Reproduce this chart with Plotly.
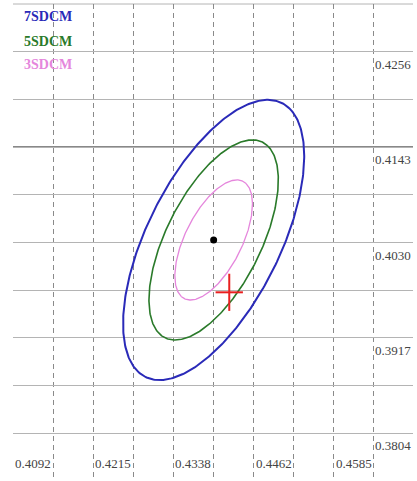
import numpy as np
import plotly.graph_objects as go

# --- data ---
center_x = 0.4339
center_y = 0.4033
ellipse_names = ["7SDCM", "5SDCM", "3SDCM"]
ellipse_a = [0.01946, 0.01390, 0.00834]   # semi-major axes
ellipse_b = [0.00952, 0.00680, 0.00408]   # semi-minor axes
ellipse_theta_deg = 53.22
ellipse_colors = ["#2a2ab8", "#2a7a2a", "#e586dc"]
ellipse_widths = [2.0, 1.6, 1.3]

measured_x = [0.4363]
measured_y = [0.3971]
cross_half_x = 0.0021
cross_half_y = 0.0022

x_tick_labels = ["0.4092", "0.4215", "0.4338", "0.4462", "0.4585"]
x_tick_values = [0.4092, 0.4215, 0.4338, 0.4462, 0.4585]
y_tick_labels = ["0.4256", "0.4143", "0.4030", "0.3917", "0.3804"]
y_tick_values = [0.4256, 0.4143, 0.4030, 0.3917, 0.3804]

x_step = 0.00615
y_step = 0.00565
x_range = [0.4092 - x_step, 0.4092 + 9 * x_step]
y_range = [0.3804 - y_step, 0.4256 + y_step]

fig = go.Figure()

t = np.linspace(0, 2 * np.pi, 361)
th = np.deg2rad(ellipse_theta_deg)
for name, a, b, col, w in zip(ellipse_names, ellipse_a, ellipse_b, ellipse_colors, ellipse_widths):
    ex = center_x + a * np.cos(t) * np.cos(th) - b * np.sin(t) * np.sin(th)
    ey = center_y + a * np.cos(t) * np.sin(th) + b * np.sin(t) * np.cos(th)
    fig.add_trace(go.Scatter(x=ex, y=ey, mode="lines", name=name,
                             line=dict(color=col, width=w), showlegend=False))

fig.add_trace(go.Scatter(x=[center_x], y=[center_y], mode="markers",
                         marker=dict(color="black", size=7), showlegend=False))

fig.add_trace(go.Scatter(
    x=measured_x, y=measured_y, mode="markers",
    marker=dict(size=1, color="rgba(0,0,0,0)"),
    error_x=dict(type="constant", value=cross_half_x, color="#e82020", thickness=2, width=0),
    error_y=dict(type="constant", value=cross_half_y, color="#e82020", thickness=2, width=0),
    showlegend=False))

# dark horizontal line
fig.add_shape(type="line", xref="paper", x0=0, x1=1, yref="y", y0=0.4143, y1=0.4143,
              line=dict(color="#606060", width=1.5), layer="below")
# top border
fig.add_shape(type="line", xref="paper", x0=0, x1=1, yref="paper", y0=1, y1=1,
              line=dict(color="#b4b4b4", width=1), layer="below")

annotations = []
for name, col, py in zip(ellipse_names, ellipse_colors, [0.9728, 0.9224, 0.8742]):
    annotations.append(dict(text="<b>" + name + "</b>", xref="paper", yref="paper", x=0.022, y=py,
                            xanchor="left", yanchor="middle", showarrow=False,
                            font=dict(family="Liberation Serif", size=14, color=col)))
for lab, v in zip(x_tick_labels, x_tick_values):
    annotations.append(dict(text=lab, xref="x", yref="paper", x=v, y=0.0377,
                            xanchor="right", yanchor="middle", showarrow=False,
                            font=dict(family="Liberation Serif", size=13, color="#444")))
for lab, v in zip(y_tick_labels, y_tick_values):
    annotations.append(dict(text=lab, xref="paper", yref="y", x=1.0, y=v,
                            xanchor="right", yanchor="top", yshift=-3, showarrow=False,
                            font=dict(family="Liberation Serif", size=13, color="#444")))

fig.update_layout(
    width=417, height=481,
    margin=dict(l=13, r=4, t=4, b=0),
    paper_bgcolor="white", plot_bgcolor="white",
    annotations=annotations,
    xaxis=dict(range=x_range, tick0=0.4092, dtick=x_step, showticklabels=False,
               showgrid=True, gridcolor="#8a8a8a", griddash="5px,4px", gridwidth=1,
               zeroline=False, showline=False, ticks=""),
    yaxis=dict(range=y_range, tick0=0.3804, dtick=y_step, showticklabels=False,
               showgrid=True, gridcolor="#b4b4b4", gridwidth=1,
               zeroline=False, showline=False, ticks=""),
)

fig.write_html("out.html", config={"displayModeBar": False},
               post_script="document.body.style.margin='0';")
